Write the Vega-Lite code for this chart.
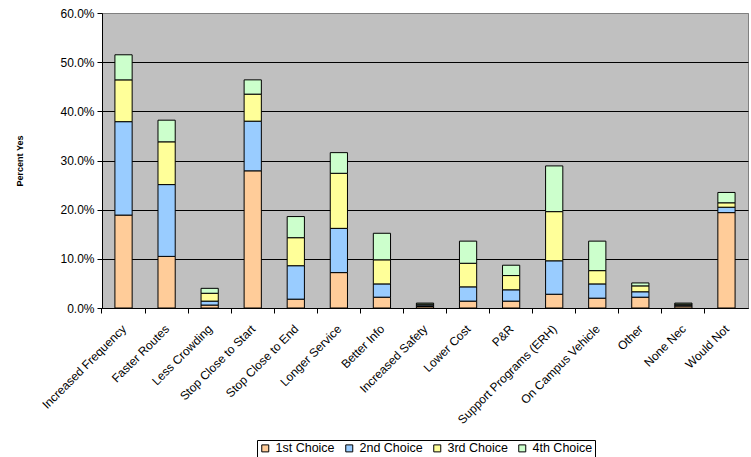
{
  "$schema": "https://vega.github.io/schema/vega-lite/v6.json",
  "width": 646,
  "height": 295,
  "autosize": {"type": "none"},
  "padding": {"left": 102, "top": 13, "right": 3, "bottom": 149},
  "background": "white",
  "config": {
    "font": "Liberation Sans",
    "view": {"fill": "#C0C0C0", "stroke": "#808080", "strokeWidth": 1}
  },
  "data": {
    "values": [
      {"reason": "Increased Frequency", "choice": "1st Choice", "share": 0.189},
      {"reason": "Increased Frequency", "choice": "2nd Choice", "share": 0.190},
      {"reason": "Increased Frequency", "choice": "3rd Choice", "share": 0.085},
      {"reason": "Increased Frequency", "choice": "4th Choice", "share": 0.051},
      {"reason": "Faster Routes", "choice": "1st Choice", "share": 0.105},
      {"reason": "Faster Routes", "choice": "2nd Choice", "share": 0.146},
      {"reason": "Faster Routes", "choice": "3rd Choice", "share": 0.087},
      {"reason": "Faster Routes", "choice": "4th Choice", "share": 0.044},
      {"reason": "Less Crowding", "choice": "1st Choice", "share": 0.006},
      {"reason": "Less Crowding", "choice": "2nd Choice", "share": 0.008},
      {"reason": "Less Crowding", "choice": "3rd Choice", "share": 0.016},
      {"reason": "Less Crowding", "choice": "4th Choice", "share": 0.010},
      {"reason": "Stop Close to Start", "choice": "1st Choice", "share": 0.279},
      {"reason": "Stop Close to Start", "choice": "2nd Choice", "share": 0.101},
      {"reason": "Stop Close to Start", "choice": "3rd Choice", "share": 0.055},
      {"reason": "Stop Close to Start", "choice": "4th Choice", "share": 0.029},
      {"reason": "Stop Close to End", "choice": "1st Choice", "share": 0.018},
      {"reason": "Stop Close to End", "choice": "2nd Choice", "share": 0.068},
      {"reason": "Stop Close to End", "choice": "3rd Choice", "share": 0.057},
      {"reason": "Stop Close to End", "choice": "4th Choice", "share": 0.043},
      {"reason": "Longer Service", "choice": "1st Choice", "share": 0.072},
      {"reason": "Longer Service", "choice": "2nd Choice", "share": 0.090},
      {"reason": "Longer Service", "choice": "3rd Choice", "share": 0.112},
      {"reason": "Longer Service", "choice": "4th Choice", "share": 0.042},
      {"reason": "Better Info", "choice": "1st Choice", "share": 0.022},
      {"reason": "Better Info", "choice": "2nd Choice", "share": 0.027},
      {"reason": "Better Info", "choice": "3rd Choice", "share": 0.049},
      {"reason": "Better Info", "choice": "4th Choice", "share": 0.054},
      {"reason": "Increased Safety", "choice": "1st Choice", "share": 0.003},
      {"reason": "Increased Safety", "choice": "2nd Choice", "share": 0.003},
      {"reason": "Increased Safety", "choice": "3rd Choice", "share": 0.002},
      {"reason": "Increased Safety", "choice": "4th Choice", "share": 0.002},
      {"reason": "Lower Cost", "choice": "1st Choice", "share": 0.014},
      {"reason": "Lower Cost", "choice": "2nd Choice", "share": 0.029},
      {"reason": "Lower Cost", "choice": "3rd Choice", "share": 0.048},
      {"reason": "Lower Cost", "choice": "4th Choice", "share": 0.045},
      {"reason": "P&R", "choice": "1st Choice", "share": 0.014},
      {"reason": "P&R", "choice": "2nd Choice", "share": 0.023},
      {"reason": "P&R", "choice": "3rd Choice", "share": 0.029},
      {"reason": "P&R", "choice": "4th Choice", "share": 0.021},
      {"reason": "Support Programs (ERH)", "choice": "1st Choice", "share": 0.028},
      {"reason": "Support Programs (ERH)", "choice": "2nd Choice", "share": 0.068},
      {"reason": "Support Programs (ERH)", "choice": "3rd Choice", "share": 0.100},
      {"reason": "Support Programs (ERH)", "choice": "4th Choice", "share": 0.093},
      {"reason": "On Campus Vehicle", "choice": "1st Choice", "share": 0.020},
      {"reason": "On Campus Vehicle", "choice": "2nd Choice", "share": 0.029},
      {"reason": "On Campus Vehicle", "choice": "3rd Choice", "share": 0.027},
      {"reason": "On Campus Vehicle", "choice": "4th Choice", "share": 0.060},
      {"reason": "Other", "choice": "1st Choice", "share": 0.022},
      {"reason": "Other", "choice": "2nd Choice", "share": 0.011},
      {"reason": "Other", "choice": "3rd Choice", "share": 0.012},
      {"reason": "Other", "choice": "4th Choice", "share": 0.006},
      {"reason": "None Nec", "choice": "1st Choice", "share": 0.004},
      {"reason": "None Nec", "choice": "2nd Choice", "share": 0.002},
      {"reason": "None Nec", "choice": "3rd Choice", "share": 0.002},
      {"reason": "None Nec", "choice": "4th Choice", "share": 0.002},
      {"reason": "Would Not", "choice": "1st Choice", "share": 0.194},
      {"reason": "Would Not", "choice": "2nd Choice", "share": 0.011},
      {"reason": "Would Not", "choice": "3rd Choice", "share": 0.009},
      {"reason": "Would Not", "choice": "4th Choice", "share": 0.021}
    ]
  },
  "mark": {"type": "bar", "stroke": "black", "strokeWidth": 1},
  "encoding": {
    "x": {
      "field": "reason",
      "type": "nominal",
      "sort": ["Increased Frequency", "Faster Routes", "Less Crowding", "Stop Close to Start", "Stop Close to End", "Longer Service", "Better Info", "Increased Safety", "Lower Cost", "P&R", "Support Programs (ERH)", "On Campus Vehicle", "Other", "None Nec", "Would Not"],
      "scale": {"paddingInner": 0.6, "paddingOuter": 0.3},
      "axis": {
        "title": null,
        "labelAngle": -45,
        "labelFontSize": 12,
        "labelColor": "black",
        "labelPadding": 10,
        "labelOffset": -3,
        "domainColor": "black",
        "tickColor": "black",
        "tickSize": 5,
        "bandPosition": -0.75
      }
    },
    "y": {
      "field": "share",
      "type": "quantitative",
      "aggregate": "sum",
      "stack": "zero",
      "scale": {"domain": [0, 0.6], "nice": false},
      "axis": {
        "title": "Percent Yes",
        "titleFontSize": 9,
        "titleFontWeight": "bold",
        "titleColor": "black",
        "titlePadding": 35,
        "format": ".1%",
        "values": [0, 0.1, 0.2, 0.3, 0.4, 0.5, 0.6],
        "labelFontSize": 12,
        "labelColor": "black",
        "labelPadding": 3,
        "domainColor": "black",
        "tickColor": "black",
        "tickSize": 5,
        "grid": true,
        "gridColor": {"condition": {"test": "datum.value >= 0.6", "value": "#808080"}, "value": "black"},
        "gridOpacity": 1
      }
    },
    "color": {
      "field": "choice",
      "type": "nominal",
      "scale": {
        "domain": ["1st Choice", "2nd Choice", "3rd Choice", "4th Choice"],
        "range": ["#FFCC99", "#99CCFF", "#FFFF99", "#CCFFCC"]
      },
      "legend": {
        "title": null,
        "orient": "none",
        "direction": "horizontal",
        "legendX": 155,
        "legendY": 427,
        "symbolType": "square",
        "symbolSize": 49,
        "symbolStrokeColor": "black",
        "symbolStrokeWidth": 1,
        "symbolOpacity": 1,
        "labelFontSize": 12.5,
        "labelColor": "black",
        "labelOffset": 4,
        "columnPadding": 8,
        "strokeColor": "black",
        "padding": 2
      }
    },
    "order": {"field": "choice", "sort": "ascending"}
  }
}
